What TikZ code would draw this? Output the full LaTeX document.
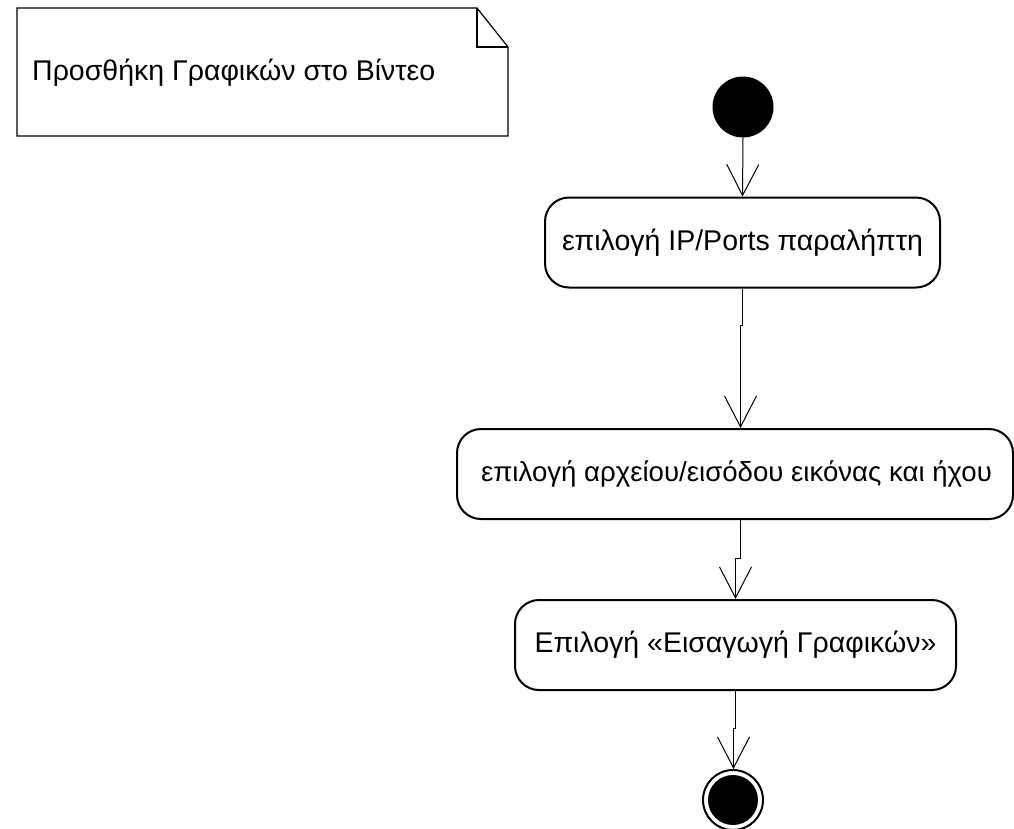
\documentclass[tikz,border=0pt]{standalone}
\usepackage{fontspec}
\setmainfont{Liberation Sans}
\usetikzlibrary{arrows.meta}
\begin{document}
\begin{tikzpicture}[x=1pt,y=-1pt,
  txt/.style={font=\fontsize{28.5}{32}\selectfont},
  act/.style={draw,line width=2pt,rounded corners=24pt,minimum height=90pt,inner sep=0pt,txt},
  flow/.style={line width=1pt,-{Straight Barb[length=31pt,width=32pt,line width=1pt]}},
  notebox/.style={line width=1.2pt}]
\useasboundingbox (0,0) rectangle (1014,828);
% note
\draw[notebox] (17,8) -- (477,8) -- (508,47) -- (508,136) -- (17,136) -- cycle;
\draw[notebox] (477,8) -- (477,47) -- (508,47);
\node[anchor=base west,inner sep=0pt,txt] (title) at (32,80) {Προσθήκη Γραφικών στο Βίντεο};
% start
\node[circle,fill=black,minimum size=61pt,inner sep=0pt] (start) at (743,107) {};
% activities
\node[act,minimum width=395pt] (b1) at (742.5,242.5) {επιλογή IP/Ports παραλήπτη};
\node[act,minimum width=556pt,font=\fontsize{27.6}{32}\selectfont] (b2) at (735,474) {\hspace{3pt}επιλογή αρχείου/εισόδου εικόνας και ήχου};
\node[act,minimum width=441pt] (b3) at (735.5,645) {Επιλογή «Εισαγωγή Γραφικών»};
% end
\node[circle,draw,line width=2pt,minimum size=60pt,inner sep=0pt] (end) at (733,800) {};
\node[circle,fill=black,minimum size=50pt,inner sep=0pt] (endin) at (end) {};
% flows
\draw[flow] (start.south) -- (b1.north);
\draw[flow] (b1.south) -- ++(0,37) -- ++(-2,0) coordinate (j1) -- (j1 |- b2.north);
\draw[flow] (j1 |- b2.south) -- ++(0,38) -- ++(-5,0) coordinate (j2) -- (j2 |- b3.north);
\draw[flow] (b3.south) -- ++(0,37) -- ++(-2,0) coordinate (j3) -- (j3 |- end.north);
\end{tikzpicture}
\end{document}
